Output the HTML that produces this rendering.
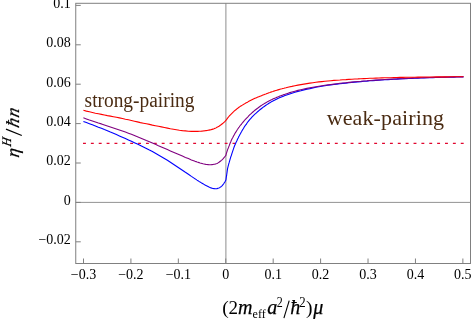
<!DOCTYPE html>
<html><head><meta charset="utf-8"><title>plot</title>
<style>
html,body{margin:0;padding:0;background:#fff;}
body{width:471px;height:319px;overflow:hidden;font-family:"Liberation Serif",serif;}
svg{display:block;will-change:transform;}
svg text{font-family:"Liberation Serif",serif;}
</style></head><body>
<svg width="471" height="319" viewBox="0 0 471 319">
<rect x="0" y="0" width="471" height="319" fill="#fff"/>
<g stroke="#808080" stroke-width="1" fill="none">
<line x1="225.90" y1="3.30" x2="225.90" y2="263.50" stroke-width="0.9"/>
<line x1="75.75" y1="202.40" x2="470.50" y2="202.40" stroke-width="0.85"/>
</g>
<rect x="75.75" y="3.30" width="394.75" height="260.20" fill="none" stroke="#808080" stroke-width="1"/>
<g stroke="#808080" stroke-width="1" fill="none">
<line x1="75.75" y1="5.40" x2="80.75" y2="5.40"/>
<line x1="75.75" y1="44.80" x2="80.75" y2="44.80"/>
<line x1="75.75" y1="84.20" x2="80.75" y2="84.20"/>
<line x1="75.75" y1="123.60" x2="80.75" y2="123.60"/>
<line x1="75.75" y1="163.00" x2="80.75" y2="163.00"/>
<line x1="75.75" y1="202.40" x2="80.75" y2="202.40"/>
<line x1="75.75" y1="241.80" x2="80.75" y2="241.80"/>
<line x1="83.50" y1="263.50" x2="83.50" y2="258.50"/>
<line x1="130.92" y1="263.50" x2="130.92" y2="258.50"/>
<line x1="178.34" y1="263.50" x2="178.34" y2="258.50"/>
<line x1="225.76" y1="263.50" x2="225.76" y2="258.50"/>
<line x1="273.18" y1="263.50" x2="273.18" y2="258.50"/>
<line x1="320.60" y1="263.50" x2="320.60" y2="258.50"/>
<line x1="368.02" y1="263.50" x2="368.02" y2="258.50"/>
<line x1="415.44" y1="263.50" x2="415.44" y2="258.50"/>
<line x1="462.86" y1="263.50" x2="462.86" y2="258.50"/>
</g>
<g font-size="14" fill="#000">
<text x="70.8" y="7.85" text-anchor="end">0.1</text>
<text x="70.8" y="47.25" text-anchor="end">0.08</text>
<text x="70.8" y="86.65" text-anchor="end">0.06</text>
<text x="70.8" y="126.05" text-anchor="end">0.04</text>
<text x="70.8" y="165.45" text-anchor="end">0.02</text>
<text x="70.8" y="204.85" text-anchor="end">0</text>
<text x="70.8" y="244.25" text-anchor="end">−0.02</text>
<text x="83.50" y="278.8" text-anchor="middle">−0.3</text>
<text x="130.92" y="278.8" text-anchor="middle">−0.2</text>
<text x="178.34" y="278.8" text-anchor="middle">−0.1</text>
<text x="225.76" y="278.8" text-anchor="middle">0</text>
<text x="273.18" y="278.8" text-anchor="middle">0.1</text>
<text x="320.60" y="278.8" text-anchor="middle">0.2</text>
<text x="368.02" y="278.8" text-anchor="middle">0.3</text>
<text x="415.44" y="278.8" text-anchor="middle">0.4</text>
<text x="462.86" y="278.8" text-anchor="middle">0.5</text>
</g>
<line x1="83.0" y1="143.45" x2="464.3" y2="143.45" stroke="#e1062f" stroke-width="1.3" stroke-dasharray="2.9 4.97"/>
<g fill="none" stroke-width="1.1" stroke-linejoin="round">
<path stroke="#0000ff" d="M83.4,121.5 L86.4,122.6 L89.4,123.7 L92.4,124.8 L95.4,126.0 L98.4,127.2 L101.4,128.3 L104.4,129.6 L107.4,130.8 L110.4,132.1 L113.4,133.3 L116.4,134.6 L119.4,135.9 L122.4,137.2 L125.4,138.5 L128.4,139.9 L131.4,141.3 L134.4,142.7 L137.4,144.1 L140.4,145.5 L143.4,147.0 L146.4,148.5 L149.4,150.1 L152.4,151.6 L155.4,153.3 L158.4,155.0 L161.4,156.7 L164.4,158.5 L167.4,160.3 L170.4,162.2 L173.4,164.2 L176.4,166.2 L179.4,168.2 L182.4,170.2 L185.4,172.3 L188.4,174.3 L191.4,176.4 L194.4,178.4 L195.0,178.8 L196.0,179.4 L197.0,180.1 L198.0,180.7 L199.0,181.4 L200.0,182.0 L201.0,182.6 L202.0,183.2 L203.0,183.8 L204.0,184.4 L205.0,185.0 L206.0,185.6 L207.0,186.1 L208.0,186.6 L209.0,187.1 L210.0,187.5 L211.0,187.9 L212.0,188.2 L213.0,188.5 L214.0,188.6 L215.0,188.7 L216.0,188.7 L217.0,188.6 L218.0,188.3 L219.0,188.0 L220.0,187.4 L221.0,186.7 L222.0,185.8 L223.0,184.7 L224.0,183.3 L225.0,181.7 L225.9,180.1 L226.3,177.1 L226.7,174.8 L227.0,172.6 L227.3,170.4 L227.6,168.3 L228.1,166.3 L228.6,164.3 L229.2,162.4 L229.7,160.6 L230.2,158.8 L230.7,157.1 L231.3,155.5 L231.8,153.9 L232.3,152.3 L232.8,150.8 L233.3,149.3 L233.8,147.9 L234.3,146.5 L234.8,145.2 L235.4,143.9 L236.0,142.6 L236.5,141.4 L237.1,140.2 L237.6,139.0 L238.2,137.9 L238.7,136.8 L239.3,135.7 L239.8,134.7 L240.4,133.7 L240.9,132.7 L241.5,131.7 L242.0,130.8 L242.5,129.9 L243.1,129.0 L243.6,128.1 L244.1,127.3 L244.6,126.4 L245.2,125.6 L245.7,124.9 L246.2,124.5 L246.9,123.2 L247.9,121.8 L248.9,120.6 L249.9,119.4 L250.9,118.3 L251.9,117.2 L252.9,116.1 L253.9,115.1 L254.9,114.2 L255.9,113.3 L256.9,112.4 L257.9,111.5 L258.9,110.6 L259.9,109.8 L260.9,109.0 L261.9,108.2 L262.9,107.4 L263.9,106.7 L264.9,106.0 L265.9,105.3 L266.9,104.6 L267.9,104.0 L268.9,103.3 L269.9,102.7 L270.9,102.1 L271.9,101.6 L272.9,101.0 L273.9,100.5 L274.9,100.0 L275.9,99.5 L276.9,99.0 L277.9,98.5 L278.9,98.1 L279.9,97.6 L280.9,97.2 L281.9,96.8 L282.9,96.4 L283.9,96.0 L284.9,95.6 L285.9,95.2 L288.9,94.2 L291.9,93.2 L294.9,92.3 L297.9,91.4 L300.9,90.7 L303.9,89.9 L306.9,89.2 L309.9,88.6 L312.9,87.9 L315.9,87.3 L318.9,86.8 L321.9,86.3 L324.9,85.8 L327.9,85.3 L330.9,84.9 L333.9,84.5 L336.9,84.1 L339.9,83.7 L342.9,83.4 L345.9,83.1 L348.9,82.7 L351.9,82.4 L354.9,82.1 L357.9,81.9 L360.9,81.6 L363.9,81.3 L366.9,81.1 L369.9,80.8 L372.9,80.6 L375.9,80.4 L378.9,80.2 L381.9,80.0 L384.9,79.8 L387.9,79.6 L390.9,79.4 L393.9,79.3 L396.9,79.1 L399.9,78.9 L402.9,78.8 L405.9,78.6 L408.9,78.5 L411.9,78.4 L414.9,78.2 L417.9,78.1 L420.9,78.0 L423.9,77.9 L426.9,77.8 L429.9,77.7 L432.9,77.6 L435.9,77.5 L438.9,77.4 L441.9,77.3 L444.9,77.3 L447.9,77.2 L450.9,77.1 L453.9,77.1 L456.9,77.0 L459.9,76.9 L462.9,76.9 L463.5,76.9"/>
<path stroke="#800080" d="M83.4,117.8 L86.4,118.9 L89.4,120.0 L92.4,121.0 L95.4,122.0 L98.4,123.0 L101.4,123.9 L104.4,124.9 L107.4,125.9 L110.4,126.9 L113.4,127.9 L116.4,128.9 L119.4,129.9 L122.4,131.0 L125.4,132.1 L128.4,133.2 L131.4,134.3 L134.4,135.5 L137.4,136.7 L140.4,137.9 L143.4,139.2 L146.4,140.5 L149.4,141.7 L152.4,143.0 L155.4,144.3 L158.4,145.7 L161.4,147.0 L164.4,148.3 L167.4,149.6 L170.4,150.9 L173.4,152.2 L176.4,153.5 L179.4,154.8 L182.4,156.1 L185.4,157.4 L188.4,158.6 L191.4,159.9 L194.4,161.0 L195.0,161.3 L196.0,161.6 L197.0,162.0 L198.0,162.3 L199.0,162.6 L200.0,163.0 L201.0,163.2 L202.0,163.5 L203.0,163.8 L204.0,164.0 L205.0,164.2 L206.0,164.4 L207.0,164.5 L208.0,164.6 L209.0,164.7 L210.0,164.7 L211.0,164.7 L212.0,164.6 L213.0,164.5 L214.0,164.3 L215.0,164.1 L216.0,163.8 L217.0,163.4 L218.0,162.9 L219.0,162.3 L220.0,161.5 L221.0,160.7 L222.0,159.8 L223.0,158.8 L224.0,157.7 L225.0,156.5 L225.9,155.4 L226.3,153.7 L226.8,152.1 L227.3,150.6 L227.8,149.1 L228.4,147.7 L228.9,146.4 L229.4,145.2 L229.8,144.0 L230.3,142.8 L230.8,141.7 L231.2,140.6 L231.7,139.5 L232.2,138.5 L232.8,137.5 L233.3,136.5 L233.8,135.5 L234.4,134.6 L234.9,133.6 L235.4,132.7 L236.0,131.9 L236.5,131.0 L237.0,130.2 L237.6,129.3 L238.1,128.5 L238.7,127.7 L239.2,127.0 L239.7,126.2 L240.3,125.5 L240.8,124.7 L241.3,124.7 L241.4,124.2 L241.9,123.5 L242.4,122.9 L242.9,122.3 L243.4,121.7 L243.9,121.1 L244.4,120.5 L244.9,119.9 L245.4,119.4 L245.9,118.8 L246.9,117.8 L247.9,116.8 L248.9,115.7 L249.9,114.7 L250.9,113.8 L251.9,112.9 L252.9,112.0 L253.9,111.1 L254.9,110.3 L255.9,109.5 L256.9,108.7 L257.9,108.0 L258.9,107.2 L259.9,106.5 L260.9,105.8 L261.9,105.1 L262.9,104.5 L263.9,103.9 L264.9,103.3 L265.9,102.7 L266.9,102.1 L267.9,101.6 L268.9,101.0 L269.9,100.5 L270.9,100.0 L271.9,99.6 L272.9,99.1 L273.9,98.6 L274.9,98.2 L275.9,97.8 L276.9,97.3 L277.9,96.9 L278.9,96.5 L279.9,96.1 L280.9,95.7 L281.9,95.4 L282.9,95.0 L283.9,94.6 L284.9,94.3 L285.9,93.9 L288.9,92.9 L291.9,92.0 L294.9,91.2 L297.9,90.4 L300.9,89.7 L303.9,89.0 L306.9,88.4 L309.9,87.8 L312.9,87.2 L315.9,86.7 L318.9,86.2 L321.9,85.7 L324.9,85.3 L327.9,84.9 L330.9,84.5 L333.9,84.1 L336.9,83.7 L339.9,83.3 L342.9,83.0 L345.9,82.7 L348.9,82.4 L351.9,82.1 L354.9,81.8 L357.9,81.5 L360.9,81.3 L363.9,81.0 L366.9,80.8 L369.9,80.5 L372.9,80.3 L375.9,80.1 L378.9,79.9 L381.9,79.7 L384.9,79.5 L387.9,79.3 L390.9,79.2 L393.9,79.0 L396.9,78.9 L399.9,78.7 L402.9,78.6 L405.9,78.4 L408.9,78.3 L411.9,78.1 L414.9,78.0 L417.9,77.9 L420.9,77.8 L423.9,77.7 L426.9,77.6 L429.9,77.5 L432.9,77.4 L435.9,77.3 L438.9,77.2 L441.9,77.2 L444.9,77.1 L447.9,77.0 L450.9,77.0 L453.9,76.9 L456.9,76.8 L459.9,76.8 L462.9,76.7 L463.5,76.7"/>
<path stroke="#ff0000" d="M83.4,110.3 L86.4,111.1 L89.4,111.8 L92.4,112.5 L95.4,113.2 L98.4,113.8 L101.4,114.4 L104.4,115.0 L107.4,115.6 L110.4,116.1 L113.4,116.7 L116.4,117.3 L119.4,117.9 L122.4,118.5 L125.4,119.2 L128.4,119.8 L131.4,120.5 L134.4,121.2 L137.4,121.9 L140.4,122.6 L143.4,123.2 L146.4,123.8 L149.4,124.4 L152.4,125.1 L155.4,125.7 L158.4,126.3 L161.4,126.9 L164.4,127.5 L167.4,128.1 L170.4,128.7 L173.4,129.2 L176.4,129.7 L179.4,130.2 L182.4,130.6 L185.4,130.9 L188.4,131.2 L191.4,131.4 L194.4,131.4 L195.0,131.4 L196.0,131.4 L197.0,131.4 L198.0,131.4 L199.0,131.3 L200.0,131.2 L201.0,131.2 L202.0,131.1 L203.0,131.0 L204.0,130.9 L205.0,130.8 L206.0,130.6 L207.0,130.5 L208.0,130.3 L209.0,130.1 L210.0,129.9 L211.0,129.7 L212.0,129.4 L213.0,129.1 L214.0,128.8 L215.0,128.3 L216.0,127.9 L217.0,127.3 L218.0,126.8 L219.0,126.2 L220.0,125.5 L221.0,124.8 L222.0,124.0 L223.0,123.2 L224.0,122.3 L225.0,121.4 L225.9,120.5 L226.4,119.8 L226.9,119.1 L227.4,118.4 L227.9,117.7 L228.4,117.1 L228.9,116.5 L229.4,115.9 L229.9,115.3 L230.4,114.8 L230.9,114.3 L231.4,113.8 L231.9,113.3 L232.4,112.8 L232.9,112.3 L233.4,111.8 L233.9,111.4 L234.4,110.9 L234.9,110.5 L235.4,110.1 L235.9,109.7 L236.4,109.3 L236.9,108.9 L237.4,108.5 L237.9,108.1 L238.4,107.7 L238.9,107.3 L239.4,107.0 L239.9,106.6 L240.4,106.3 L240.9,106.0 L241.4,105.7 L241.9,105.4 L242.4,105.1 L242.9,104.7 L243.4,104.5 L243.9,104.2 L244.4,103.9 L244.9,103.6 L245.4,103.3 L245.9,103.0 L246.9,102.4 L247.9,101.9 L248.9,101.3 L249.9,100.8 L250.9,100.3 L251.9,99.8 L252.9,99.3 L253.9,98.8 L254.9,98.3 L255.9,97.9 L256.9,97.5 L257.9,97.1 L258.9,96.7 L259.9,96.3 L260.9,95.9 L261.9,95.5 L262.9,95.1 L263.9,94.7 L264.9,94.3 L265.9,94.0 L266.9,93.6 L267.9,93.2 L268.9,92.8 L269.9,92.5 L270.9,92.1 L271.9,91.8 L272.9,91.5 L273.9,91.1 L274.9,90.8 L275.9,90.5 L276.9,90.2 L277.9,89.9 L278.9,89.6 L279.9,89.3 L280.9,89.0 L281.9,88.8 L282.9,88.5 L283.9,88.3 L284.9,88.0 L285.9,87.8 L288.9,87.0 L291.9,86.4 L294.9,85.7 L297.9,85.1 L300.9,84.6 L303.9,84.1 L306.9,83.6 L309.9,83.1 L312.9,82.7 L315.9,82.3 L318.9,81.9 L321.9,81.6 L324.9,81.3 L327.9,81.0 L330.9,80.7 L333.9,80.4 L336.9,80.2 L339.9,80.0 L342.9,79.7 L345.9,79.6 L348.9,79.4 L351.9,79.2 L354.9,79.0 L357.9,78.9 L360.9,78.7 L363.9,78.6 L366.9,78.5 L369.9,78.3 L372.9,78.2 L375.9,78.1 L378.9,78.0 L381.9,77.9 L384.9,77.8 L387.9,77.7 L390.9,77.7 L393.9,77.6 L396.9,77.5 L399.9,77.4 L402.9,77.4 L405.9,77.3 L408.9,77.3 L411.9,77.2 L414.9,77.2 L417.9,77.1 L420.9,77.1 L423.9,77.0 L426.9,77.0 L429.9,77.0 L432.9,77.0 L435.9,76.9 L438.9,76.9 L441.9,76.9 L444.9,76.9 L447.9,76.9 L450.9,76.8 L453.9,76.8 L456.9,76.8 L459.9,76.8 L462.9,76.8 L463.5,76.8"/>
</g>
<text x="84.6" y="106.8" font-size="20" textLength="109.8" lengthAdjust="spacingAndGlyphs" fill="#4a2b12">strong-pairing</text>
<text x="326.7" y="124.6" font-size="22" textLength="117.4" lengthAdjust="spacing" fill="#4a2b12">weak-pairing</text>
<text x="222.30" y="314.40" font-size="19.5" fill="#000" >(</text>
<text x="228.60" y="314.40" font-size="19" fill="#000" >2</text>
<text x="238.10" y="314.40" font-size="20" fill="#000" font-style="italic" stroke="#000" stroke-width="0.25">m</text>
<text x="252.60" y="318.00" font-size="12.5" fill="#000" textLength="13.2" lengthAdjust="spacingAndGlyphs">eff</text>
<text x="267.30" y="314.40" font-size="20" fill="#000" font-style="italic" stroke="#000" stroke-width="0.25">a</text>
<text x="276.80" y="306.90" font-size="14" fill="#000" textLength="6" lengthAdjust="spacingAndGlyphs">2</text>
<line x1="283.9" y1="318.2" x2="289.2" y2="300.6" stroke="#000" stroke-width="1.1"/>
<text x="290.20" y="314.40" font-size="20" fill="#000" font-style="italic" stroke="#000" stroke-width="0.25">ħ</text>
<text x="299.30" y="306.90" font-size="14" fill="#000" textLength="6.4" lengthAdjust="spacingAndGlyphs">2</text>
<text x="306.00" y="314.40" font-size="19.5" fill="#000" >)</text>
<text x="313.20" y="314.40" font-size="20" fill="#000" font-style="italic" stroke="#000" stroke-width="0.25">μ</text>
<g transform="translate(18.8,158.6) rotate(-90)">
<text transform="translate(0.60,0.00) skewX(-8)" font-size="18.5" fill="#000" font-style="italic" stroke="#000" stroke-width="0.25">η</text>
<text transform="translate(11.5,-8.0) skewX(-12) scale(0.91,1)" font-size="13" fill="#000" font-style="italic" stroke="#000" stroke-width="0.25">H</text>
<line x1="23.1" y1="3.0" x2="29.5" y2="-12.8" stroke="#000" stroke-width="1.2"/>
<text transform="translate(30.00,0.00) skewX(-14)" font-size="18.5" fill="#000" font-style="italic" stroke="#000" stroke-width="0.25">ħ</text>
<text transform="translate(40.40,0.00) skewX(-14)" font-size="18.5" fill="#000" font-style="italic" stroke="#000" stroke-width="0.25">n</text>
</g>
</svg>
</body></html>
